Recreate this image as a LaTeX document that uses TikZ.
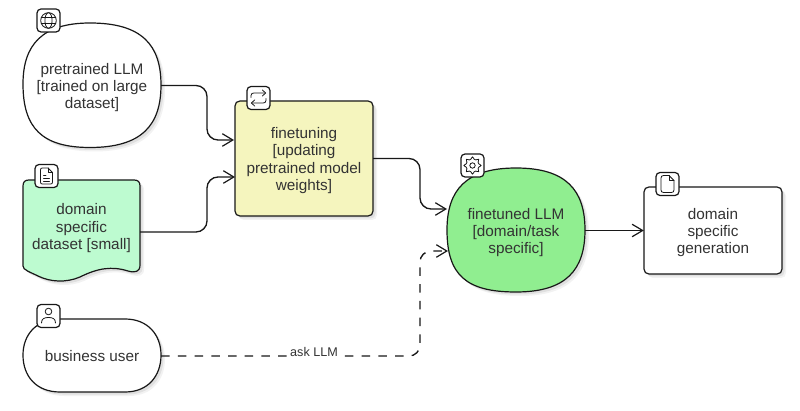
\documentclass[tikz,border=0pt]{standalone}
\usepackage{fontspec}
\setmainfont{Liberation Sans}
\usetikzlibrary{arrows.meta}
\definecolor{txt}{HTML}{333333}
\definecolor{lineK}{HTML}{181818}
\definecolor{yel}{HTML}{F5F5BE}
\definecolor{mint}{HTML}{BDFBD0}
\definecolor{grn}{HTML}{90EE90}
\newcommand\Shp[2]{%
  \fill[black,opacity=.05,shift={(4,4)}] #2;
  \fill[black,opacity=.07,shift={(2.5,2.5)}] #2;
  \path[draw=lineK,line width=1.2pt,fill=#1] #2;
}
\newcommand\lift{\rule{0pt}{15pt}}
\newcommand\sink{\rule[-11pt]{0pt}{1pt}}
\tikzset{
  lbl/.style={text=txt,align=center,font=\fontsize{15.3}{17.3}\selectfont,inner sep=0pt},
  iconbox/.style={draw=lineK,line width=1.2pt,fill=white,rounded corners=4pt,minimum size=23pt,inner sep=0pt},
  glyph/.style={draw=lineK,line width=.8pt,line cap=round,line join=round},
  conn/.style={draw=lineK,line width=1.35pt,rounded corners=11pt,-{Straight Barb[length=10.5pt,width=12.5pt,line width=1.2pt]}},
  dashconn/.style={conn,dash pattern=on 8.5pt off 8.2pt},
  edgelbl/.style={text=txt,fill=white,font=\fontsize{12.6}{14}\selectfont,inner sep=1.5pt}
}
\begin{document}
\begin{tikzpicture}[x=1pt,y=-1pt]
\useasboundingbox (0,0) rectangle (800,411);
\fill[white] (0,0) rectangle (800,411);

% shapes
\Shp{white}{(90,23) .. controls (142,23) and (161,45) .. (161,85) .. controls (161,125) and (142,147.5) .. (90,147.5) .. controls (42,147.5) and (23,128) .. (23,84) .. controls (23,45) and (42,23) .. (90,23) -- cycle}
\Shp{mint}{(29,180) -- (134,180) .. controls (138,180) and (140,182) .. (140,186) -- (140,265) .. controls (140,272) and (135,273) .. (128,271) .. controls (112,266) and (98,268) .. (80,277) .. controls (66,283) and (50,282) .. (38,276) .. controls (30,272) and (23,270) .. (23,266) -- (23,186) .. controls (23,182) and (25,180) .. (29,180) -- cycle}
\Shp{white}{(60,319) -- (125,319) .. controls (148,319) and (161,335) .. (161,355) .. controls (161,376) and (148,392) .. (125,392) -- (60,392) .. controls (36,392) and (23,376) .. (23,355) .. controls (23,335) and (36,319) .. (60,319) -- cycle}
\Shp{yel}{(240,101) -- (368,101) .. controls (371,101) and (373,103) .. (373,106) -- (373,211) .. controls (373,214) and (371,216) .. (368,216) -- (240,216) .. controls (237,216) and (235,214) .. (235,211) -- (235,106) .. controls (235,103) and (237,101) .. (240,101) -- cycle}
\Shp{grn}{(516,168) .. controls (566,168) and (585,190) .. (585,230) .. controls (585,270) and (566,292) .. (516,292) .. controls (466,292) and (447,275) .. (447,230) .. controls (447,190) and (466,168) .. (516,168) -- cycle}
\Shp{white}{(649,187) -- (777,187) .. controls (780,187) and (782,189) .. (782,192) -- (782,269) .. controls (782,272) and (780,274) .. (777,274) -- (649,274) .. controls (646,274) and (644,272) .. (644,269) -- (644,192) .. controls (644,189) and (646,187) .. (649,187) -- cycle}

% labels, sized to the shapes
\node[lbl,minimum width=138pt,minimum height=125pt] (pre) at (92,85.5) {\lift pretrained LLM\\{[trained on large}\\dataset]};
\node[lbl,minimum width=117pt,minimum height=100pt] (dat) at (81.5,232) {domain\\specific\\dataset [small]\sink};
\node[lbl,minimum width=138pt,minimum height=73pt] (usr) at (92,356) {business user};
\node[lbl,minimum width=138pt,minimum height=115pt] (fin) at (304,158.5) {\lift finetuning\\{[updating}\\pretrained model\\weights]};
\node[lbl,minimum width=138pt,minimum height=124pt] (llm) at (516,230.5) {\lift finetuned LLM\\{[domain/task}\\specific]};
\node[lbl,minimum width=138pt,minimum height=87pt] (gen) at (713,230.5) {\lift domain\\specific\\generation};

% icon badges
\node[iconbox] (icoA) at (48.5,20.5) {};
\node[iconbox] (icoB) at (46.5,176) {};
\node[iconbox] (icoC) at (48.5,316) {};
\node[iconbox] (icoD) at (258.5,98) {};
\node[iconbox] (icoE) at (472.5,165.5) {};
\node[iconbox] (icoF) at (667.5,184) {};

% globe
\begin{scope}[shift={(icoA.center)}]
\draw[glyph] (0,0) circle (7.8);
\draw[glyph] (0,0) ellipse (3.6 and 7.8);
\draw[glyph] (-7.2,-2.6) -- (7.2,-2.6) (-7.2,2.6) -- (7.2,2.6);
\end{scope}
% document with lines
\begin{scope}[shift={(icoB.center)}]
\draw[glyph] (1.5,-8) -- (-4,-8) .. controls (-5.5,-8) and (-6,-7.5) .. (-6,-6) -- (-6,6) .. controls (-6,7.5) and (-5.5,8) .. (-4,8) -- (4,8) .. controls (5.5,8) and (6,7.5) .. (6,6) -- (6,-3.5) -- cycle;
\draw[glyph] (1.5,-8) -- (1.5,-3.5) -- (6,-3.5);
\draw[glyph] (-3,-1) -- (-.5,-1) (-3,2) -- (3,2) (-3,5) -- (3,5);
\end{scope}
% person
\begin{scope}[shift={(icoC.center)}]
\draw[glyph] (0,-4.5) circle (3.3);
\draw[glyph] (-7,7) .. controls (-7,2.5) and (-4,1.5) .. (0,1.5) .. controls (4,1.5) and (7,2.5) .. (7,7);
\end{scope}
% repeat arrows
\begin{scope}[shift={(icoD.center)}]
\draw[glyph] (-7.5,-.5) -- (-7.5,-2.5) .. controls (-7.5,-4.5) and (-6,-5) .. (-4.5,-5) -- (7,-5);
\draw[glyph] (3.8,-8) -- (7.2,-5) -- (3.8,-2);
\draw[glyph] (7.5,.5) -- (7.5,2.5) .. controls (7.5,4.5) and (6,5) .. (4.5,5) -- (-7,5);
\draw[glyph] (-3.8,8) -- (-7.2,5) -- (-3.8,2);
\end{scope}
% gear
\begin{scope}[shift={(icoE.center)}]
\draw[glyph] plot[smooth cycle,tension=.5,domain=0:345,samples=24] ({(7.2+1.5*cos(8*\x))*cos(\x)},{(7.2+1.5*cos(8*\x))*sin(\x)});
\draw[glyph] (0,0) circle (2.7);
\end{scope}
% file
\begin{scope}[shift={(icoF.center)}]
\draw[glyph] (1.5,-8.5) -- (-4,-8.5) .. controls (-5.5,-8.5) and (-6.5,-7.5) .. (-6.5,-6) -- (-6.5,6) .. controls (-6.5,7.5) and (-5.5,8.5) .. (-4,8.5) -- (4,8.5) .. controls (5.5,8.5) and (6.5,7.5) .. (6.5,6) -- (6.5,-3.5) -- cycle;
\draw[glyph] (1.5,-8.5) -- (1.5,-3.5) -- (6.5,-3.5);
\end{scope}

% connector ends on the shapes
\coordinate (finA) at (234,140);
\coordinate (finB) at (235,177);
\coordinate (llmA) at (447,209);
\coordinate (llmB) at (448,251);
\coordinate (laneA) at (207,150);
\coordinate (laneB) at (420,170);
\coordinate (laneC) at (420,300);

\draw[conn] (pre.east) -- (pre.east -| laneA) -- (laneA |- finA) -- (finA);
\draw[conn] (dat.east) -- (dat.east -| laneA) -- (laneA |- finB) -- (finB);
\draw[conn] (fin.east) -- (fin.east -| laneB) -- (laneB |- llmA) -- (llmA);
\draw[conn] (llm.east) -- (gen.west);
\draw[dashconn] (usr.east) -- (usr.east -| laneC) -- (laneC |- llmB) -- (llmB);
\node[edgelbl] (ask) at (314,352) {ask LLM};
\end{tikzpicture}
\end{document}
